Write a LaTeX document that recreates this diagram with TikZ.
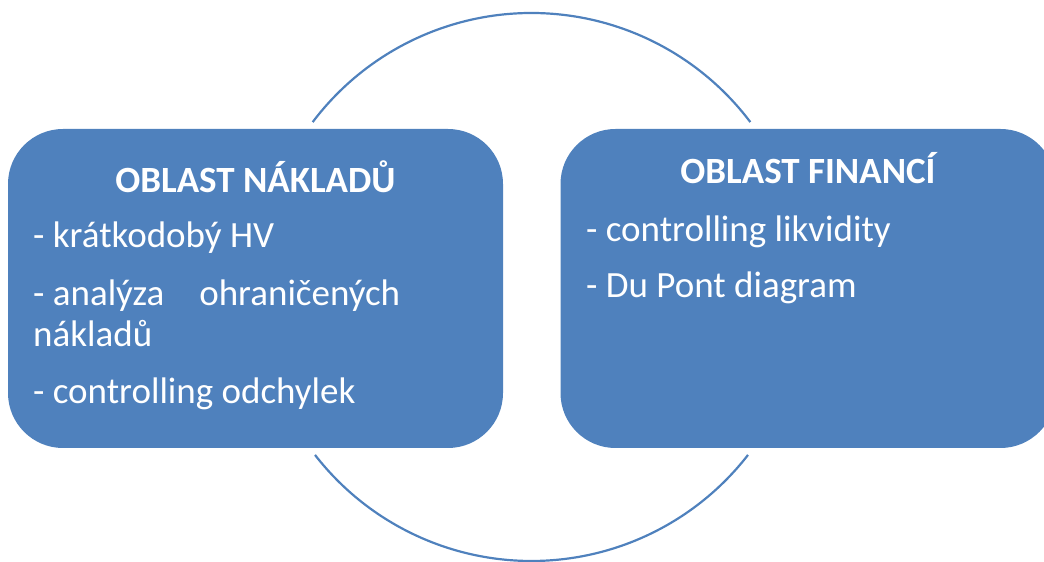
\documentclass[tikz,border=0pt]{standalone}
\usepackage{fontspec}
\setmainfont{Carlito}
\definecolor{offblue}{HTML}{4F81BD}
\begin{document}
\begin{tikzpicture}[x=1pt,y=1pt,
  box/.style={fill=offblue, draw=none, rounded corners=55pt, minimum width=495pt, minimum height=319pt, inner sep=0pt},
  ring/.style={draw=offblue, line width=2.2pt},
  ttl/.style={text=white, font=\fontsize{37}{44}\selectfont\bfseries, anchor=base, inner sep=0pt},
  itm/.style={text=white, font=\fontsize{37}{44}\selectfont, anchor=base west, inner sep=0pt}]
\useasboundingbox (0,0) rectangle (1044,562);
\clip (0,0) rectangle (1044,562);
\coordinate (c) at (531.5,275);
\draw[ring] ([shift={(143:274pt)}]c) arc[start angle=143, end angle=37, radius=274pt];
\draw[ring] ([shift={(217.8:274pt)}]c) arc[start angle=217.8, end angle=322.2, radius=274pt];
\node[box] (boxL) at (255.5,273.5) {};
\node[box] (boxR) at (808,273.5) {};
\node[ttl] (tL) at (255.5,369) {OBLAST NÁKLADŮ};
\node[itm] (l1) at (33,314) {- krátkodobý HV};
\node[itm] (l2) at (33,256) {\hbox to 367pt{- analýza\hfill ohraničených}};
\node[itm] (l3) at (33,215) {nákladů};
\node[itm] (l4) at (33,158) {- controlling odchylek};
\node[ttl] (tR) at (808,378) {OBLAST FINANCÍ};
\node[itm] (r1) at (586,320) {- controlling likvidity};
\node[itm] (r2) at (586,264) {- Du Pont diagram};
\end{tikzpicture}
\end{document}
